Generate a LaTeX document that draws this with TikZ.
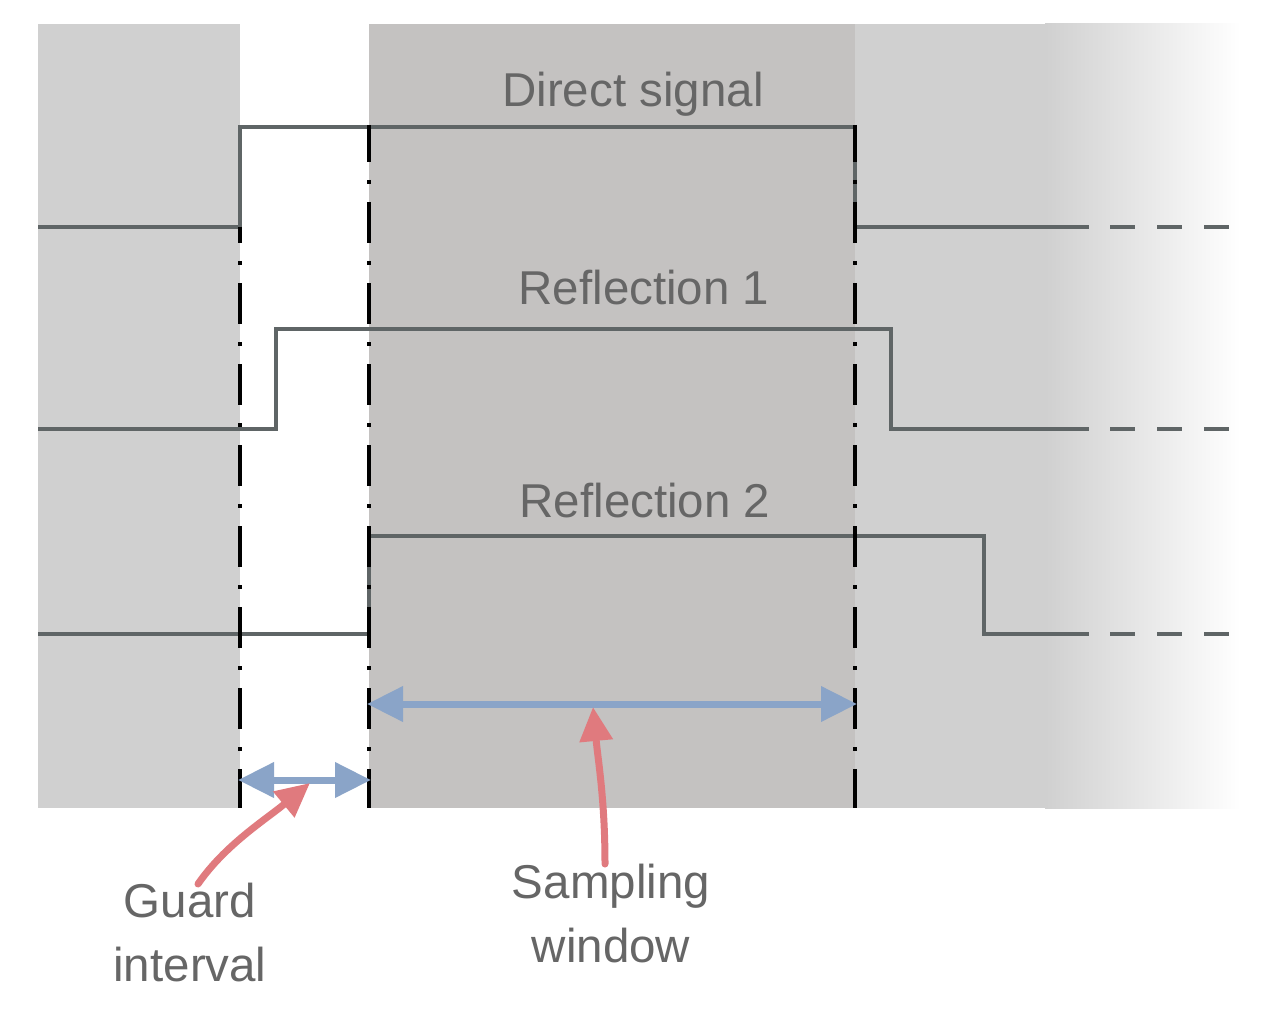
\documentclass[tikz,border=0pt]{standalone}
\usepackage{fontspec}
\setmainfont{Liberation Sans}
\usetikzlibrary{arrows.meta}
\definecolor{bgL}{HTML}{D0D0D0}
\definecolor{bgM}{HTML}{C4C2C1}
\definecolor{sig}{HTML}{5F6566}
\definecolor{txt}{HTML}{666666}
\definecolor{blu}{HTML}{8AA4C8}
\definecolor{rd}{HTML}{E07A7E}
\tikzset{
  sigline/.style={draw=sig, line width=4pt},
  sigdash/.style={draw=sig, line width=4pt, dash pattern=on 25pt off 22pt},
  boundary/.style={draw=black, line width=4pt, dash pattern=on 41pt off 18pt on 4pt off 18pt},
  lbl/.style={text=txt, font=\fontsize{47.5}{64}\selectfont, inner sep=0pt, align=center},
  span/.style={draw=blu, line width=7pt, {Triangle[length=36pt,width=34pt]}-{Triangle[length=36pt,width=34pt]}, shorten <=-2pt, shorten >=-2pt},
  pointer/.style={draw=rd, line width=7pt, -{Triangle[length=34pt,width=32pt]}, line cap=round}
}
\begin{document}
\begin{tikzpicture}[x=1pt,y=-1pt]
\useasboundingbox (0,0) rectangle (1280,1035);
\fill[white] (0,0) rectangle (1280,1035);
% backgrounds
\fill[bgL] (38,24) rectangle (240,808);
\fill[bgM] (369,24) rectangle (855,808);
\fill[bgL] (855,24) rectangle (1046,808);
\shade[left color=bgL, right color=white] (1045,24) rectangle (1241,808);
% signals
\draw[sigline, line join=miter] (38,227) -- (240,227) -- (240,127) -- (855,127) -- (855,227) -- (1089,227);
\draw[sigdash] (1110,227) -- (1229,227);
\draw[sigline, line join=miter] (38,429) -- (276,429) -- (276,329) -- (891,329) -- (891,429) -- (1089,429);
\draw[sigdash] (1110,429) -- (1229,429);
\draw[sigline, line join=miter] (38,634) -- (369,634) -- (369,536) -- (984,536) -- (984,634) -- (1089,634);
\draw[sigdash] (1110,634) -- (1229,634);
% boundaries
\coordinate (b1t) at (240,227); \coordinate (b1b) at (240,808);
\coordinate (b2t) at (369,125); \coordinate (b2b) at (369,808);
\coordinate (b3t) at (855,125); \coordinate (b3b) at (855,808);
\draw[boundary, dash phase=25pt] (b1t) -- (b1b);
\draw[boundary, dash phase=4pt] (b2t) -- (b2b);
\draw[boundary, dash phase=4pt] (b3t) -- (b3b);
% labels
\node[lbl] (direct) at (633,94) {Direct signal};
\node[lbl] (refl1) at (644,288) {Reflection 1};
\node[lbl] (refl2) at (645,501) {Reflection 2};
% spans
\coordinate (sL) at (369,704); \coordinate (sR) at (855,704);
\coordinate (gL) at (240,780); \coordinate (gR) at (369,780);
\draw[span] (sL) -- (sR);
\draw[span] (gL) -- (gR);
% bottom labels
\node[lbl] (guard) at (190,933) {Guard\\interval};
\node[lbl] (samp) at (611,914) {Sampling\\window};
\coordinate (gtip) at (310,783);
\coordinate (stip) at (593,707);
\draw[pointer] (198,884) .. controls (225,845) and (265,820) .. (gtip);
\draw[pointer] (605,864) .. controls (605,800) and (598,760) .. (stip);
\end{tikzpicture}
\end{document}
